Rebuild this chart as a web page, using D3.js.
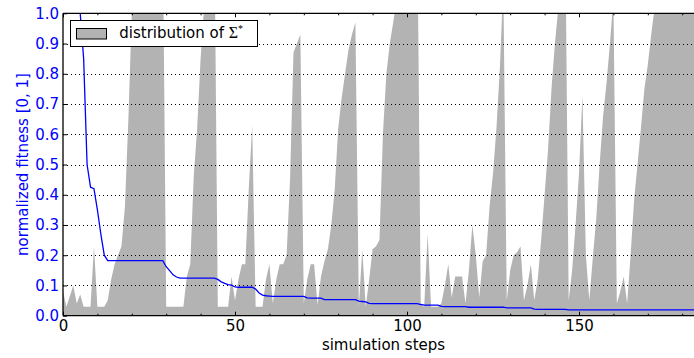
<!DOCTYPE html>
<html>
<head>
<meta charset="utf-8">
<script src="https://cdnjs.cloudflare.com/ajax/libs/d3/7.8.5/d3.min.js"></script>
<style>
  body { margin: 0; background: #fff; }
  svg { display: block; font-family: "DejaVu Sans", sans-serif; }
</style>
</head>
<body>
<script>
// distribution of Sigma* per simulation step (values above 1 get clipped by the axes)
const sigmaDist = [
  0.08,0.03,0.065,0.1,0.04,0.07,0.03,0.03,0.03,0.23,
  0.03,0.03,0.03,0.05,0.12,0.17,0.2,0.23,0.36,0.65,
  1.0,1.3,1.3,1.3,1.3,1.3,1.3,1.3,1.3,1.3,
  0.03,0.03,0.03,0.03,0.03,0.03,0.13,0.17,0.46,0.62,
  0.85,1.02,1.2,1.3,1.3,0.03,0.03,0.03,0.03,0.13,
  0.05,0.12,0.17,0.17,0.42,0.63,0.03,0.03,0.03,0.12,
  0.17,0.04,0.12,0.17,0.17,0.2,0.45,0.87,0.9,0.93,
  0.04,0.12,0.17,0.17,0.035,0.13,0.18,0.22,0.3,0.42,
  0.62,0.72,0.8,0.88,0.93,0.97,0.03,0.22,0.03,0.12,
  0.22,0.23,0.25,0.6,0.8,0.9,0.97,1.05,1.3,1.3,
  1.3,1.3,1.3,1.3,0.035,0.03,0.27,0.03,0.03,0.03,
  0.04,0.1,0.17,0.06,0.13,0.13,0.13,0.04,0.15,0.3,
  0.2,0.06,0.18,0.2,0.36,0.47,0.62,0.82,1.1,0.05,
  0.15,0.2,0.21,0.23,0.05,0.1,0.17,0.05,0.12,0.25,
  0.4,0.55,0.75,0.9,1.02,1.2,1.3,0.05,0.15,0.3,
  0.47,0.73,0.2,0.05,0.19,0.32,0.5,0.66,0.77,0.9,
  1.05,0.04,0.08,0.13,0.04,0.2,0.38,0.5,0.62,0.75,
  0.83,0.93,1.02,1.3,1.3,1.3,1.3,1.3,1.3,1.3,
  1.3,1.3,1.3,1.3,1.3
];

// normalized fitness per simulation step
const fitness = [
  1.0,1.0,1.0,1.0,1.0,1.0,0.85,0.5,0.425,0.42,
  0.35,0.27,0.2,0.182,0.182,0.182,0.182,0.182,0.182,0.182,
  0.182,0.182,0.182,0.182,0.182,0.182,0.182,0.182,0.182,0.182,
  0.162,0.149,0.135,0.128,0.124,0.124,0.124,0.124,0.124,0.124,
  0.124,0.124,0.124,0.124,0.124,0.12,0.112,0.107,0.103,0.101,
  0.095,0.094,0.094,0.094,0.094,0.094,0.088,0.075,0.068,0.066,
  0.065,0.064,0.064,0.064,0.064,0.064,0.064,0.064,0.064,0.064,
  0.064,0.059,0.058,0.058,0.058,0.058,0.053,0.053,0.053,0.053,
  0.053,0.053,0.053,0.053,0.053,0.053,0.048,0.047,0.046,0.041,
  0.04,0.04,0.04,0.04,0.04,0.04,0.04,0.04,0.04,0.04,
  0.04,0.04,0.04,0.04,0.037,0.035,0.035,0.035,0.035,0.035,
  0.031,0.03,0.03,0.03,0.03,0.03,0.03,0.03,0.028,0.028,
  0.028,0.028,0.028,0.028,0.028,0.028,0.028,0.028,0.028,0.026,
  0.026,0.026,0.026,0.026,0.026,0.026,0.026,0.022,0.021,0.021,
  0.021,0.021,0.021,0.021,0.021,0.021,0.021,0.019,0.019,0.019,
  0.019,0.019,0.019,0.019,0.019,0.019,0.019,0.019,0.019,0.019,
  0.019,0.019,0.019,0.019,0.019,0.019,0.019,0.019,0.019,0.019,
  0.019,0.019,0.019,0.019,0.019,0.019,0.019,0.019,0.019,0.019,
  0.019,0.019,0.019,0.019,0.019
];

const xMajor = [0, 50, 100, 150];
const xMinor = [10, 20, 30, 40, 60, 70, 80, 90, 110, 120, 130, 140, 160, 170, 180];
const yTicks = [0.0, 0.1, 0.2, 0.3, 0.4, 0.5, 0.6, 0.7, 0.8, 0.9, 1.0];
const gridLevels = [0.1, 0.2, 0.3, 0.4, 0.5, 0.6, 0.7, 0.8, 0.9];

let width = 694;
let height = 358;
let mLeft = 63, mTop = 13.3, mBottom = 315.7;
let xMax = 186.3;

let x = d3.scaleLinear().domain([0, xMax]).range([mLeft, mLeft + xMax * 3.44]);
let y = d3.scaleLinear().domain([0, 1]).range([mBottom, mTop]);

let svg = d3.select('body').append('svg')
  .attr('width', width)
  .attr('height', height);

svg.append('defs').append('clipPath').attr('id', 'plot')
  .append('rect')
  .attr('x', x(0)).attr('y', y(1))
  .attr('width', x(xMax) - x(0)).attr('height', y(0) - y(1));

let g = svg.append('g').attr('clip-path', 'url(#plot)');

// gray distribution area
let area = d3.area()
  .x((d, i) => x(i))
  .y0(y(0))
  .y1(d => y(d));

g.append('path')
  .datum(sigmaDist)
  .attr('d', area)
  .attr('fill', '#b3b3b3')
  .attr('stroke', 'none');

// dotted horizontal grid
g.selectAll('line.grid')
  .data(gridLevels)
  .enter().append('line')
  .attr('class', 'grid')
  .attr('x1', x(0)).attr('x2', x(xMax))
  .attr('y1', d => Math.round(y(d)) + 0.5)
  .attr('y2', d => Math.round(y(d)) + 0.5)
  .style('stroke', '#000')
  .style('stroke-width', 1)
  .style('stroke-dasharray', '1,3');

// fitness line
let line = d3.line()
  .x((d, i) => x(i))
  .y(d => y(d));

g.append('path')
  .datum(fitness)
  .attr('d', line)
  .style('fill', 'none')
  .style('stroke', '#0000ff')
  .style('stroke-width', 1.3);

// axes (ticks point inward)
let xb = svg.append('g')
  .attr('transform', `translate(0,${mBottom})`)
  .call(d3.axisBottom(x).tickValues(xMajor).tickSize(-4).tickPadding(5).tickFormat(d3.format('d')));
svg.append('g')
  .attr('transform', `translate(0,${mBottom})`)
  .call(d3.axisBottom(x).tickValues(xMinor).tickSize(-2).tickFormat(''));
svg.append('g')
  .attr('transform', `translate(0,${mTop})`)
  .call(d3.axisTop(x).tickValues(xMajor).tickSize(-4).tickFormat(''));
svg.append('g')
  .attr('transform', `translate(0,${mTop})`)
  .call(d3.axisTop(x).tickValues(xMinor).tickSize(-2).tickFormat(''));
let yl = svg.append('g')
  .attr('transform', `translate(${mLeft},0)`)
  .call(d3.axisLeft(y).tickValues(yTicks).tickSize(-4).tickPadding(4).tickFormat(d3.format('.1f')));

svg.selectAll('.domain').remove();
svg.selectAll('.tick line').style('stroke', '#000').style('stroke-width', 1);
xb.selectAll('text').style('font-size', '15px').style('fill', '#000')
  .style('font-family', '"DejaVu Sans", sans-serif');
yl.selectAll('text').style('font-size', '15px').style('fill', '#0000ff')
  .style('font-family', '"DejaVu Sans", sans-serif');

// spines
svg.append('line').attr('x1', mLeft).attr('x2', mLeft).attr('y1', mTop).attr('y2', mBottom)
  .style('stroke', '#000').style('stroke-width', 1.3);
svg.append('line').attr('x1', mLeft).attr('x2', width).attr('y1', mTop).attr('y2', mTop)
  .style('stroke', '#000').style('stroke-width', 1.3);
svg.append('line').attr('x1', mLeft).attr('x2', width).attr('y1', mBottom).attr('y2', mBottom)
  .style('stroke', '#000').style('stroke-width', 1.3);

// axis labels
svg.append('text')
  .attr('x', 383.5).attr('y', 350)
  .attr('text-anchor', 'middle')
  .style('font-size', '15px')
  .text('simulation steps');

svg.append('text')
  .attr('transform', `translate(28,${(mTop + mBottom) / 2}) rotate(-90)`)
  .attr('text-anchor', 'middle')
  .style('font-size', '15px')
  .style('fill', '#0000ff')
  .text('normalized fitness [0, 1]');

// legend
let lg = svg.append('g');
lg.append('rect')
  .attr('x', 70.5).attr('y', 20.5).attr('width', 187).attr('height', 26)
  .style('fill', '#fff').style('stroke', '#000').style('stroke-width', 1);
lg.append('rect')
  .attr('x', 76.5).attr('y', 28.5).attr('width', 30).attr('height', 10.5)
  .style('fill', '#b3b3b3').style('stroke', '#000').style('stroke-width', 1);
let lt = lg.append('text')
  .attr('x', 119.3).attr('y', 38)
  .style('font-size', '15px');
lt.append('tspan').text('distribution of ');
lt.append('tspan').style('font-family', '"Liberation Serif", serif').style('font-size', '16px').text('Σ');
lt.append('tspan').attr('dy', -6).style('font-size', '10px').style('font-family', '"Liberation Serif", serif').text('*');
</script>
</body>
</html>
